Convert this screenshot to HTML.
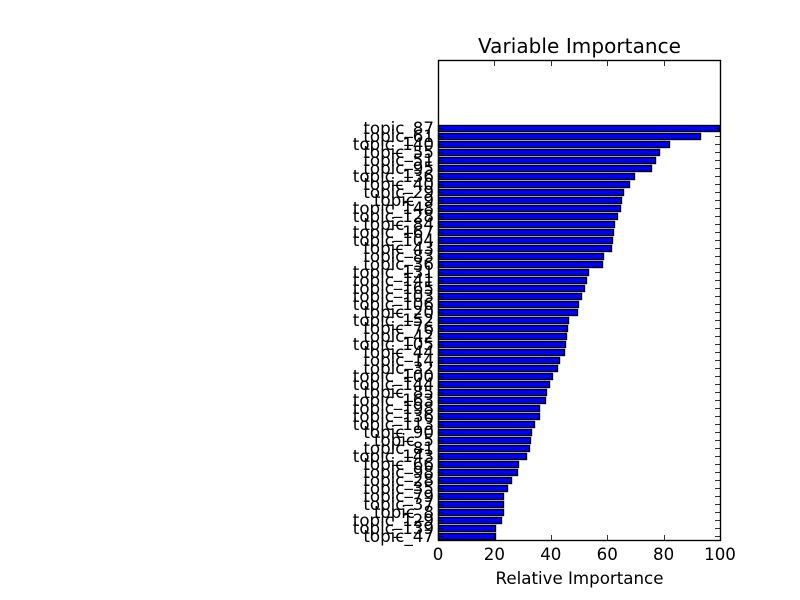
<!DOCTYPE html>
<html>
<head>
<meta charset="utf-8">
<title>Variable Importance</title>
<style>
html,body{margin:0;padding:0;background:#fff;width:800px;height:600px;overflow:hidden}
svg{display:block}
text{font-family:"DejaVu Sans",sans-serif;fill:#000}
</style>
</head>
<body>
<svg id="chart" xmlns="http://www.w3.org/2000/svg" width="800" height="600" viewBox="0 0 800 600">
<rect x="438.5" y="60.5" width="282" height="480" fill="#fff"/>
<g id="bars"></g>
<g id="ticks"></g>
<rect x="438.5" y="60.5" width="282" height="480" fill="none" stroke="#000" stroke-width="1.39"/>
<g id="labels"></g>
<text x="579.5" y="53" font-size="20" letter-spacing="0.06" text-anchor="middle">Variable Importance</text>
<text x="579.5" y="584" font-size="16.67" text-anchor="middle">Relative Importance</text>
</svg>
<script>
const categories = ["topic_87","topic_61","topic_140","topic_55","topic_51","topic_95","topic_136","topic_40","topic_29","topic_9","topic_148","topic_128","topic_84","topic_167","topic_104","topic_43","topic_83","topic_36","topic_131","topic_141","topic_165","topic_103","topic_106","topic_20","topic_152","topic_76","topic_42","topic_105","topic_44","topic_14","topic_32","topic_100","topic_144","topic_85","topic_163","topic_198","topic_136","topic_113","topic_90","topic_5","topic_81","topic_143","topic_66","topic_98","topic_28","topic_35","topic_79","topic_37","topic_8","topic_129","topic_139","topic_47"];
const importance = [100,93.3,82.2,78.6,77.2,76,69.8,68,65.9,65.2,64.8,63.7,62.7,62.3,62,61.7,58.9,58.5,53.5,52.8,52.1,51,50,49.6,46.5,46.1,45.7,45.4,45,43.3,42.6,40.8,39.7,38.8,38.4,36.2,36,34.4,33.4,32.9,32.5,31.4,28.6,28.2,26.1,24.7,23.3,23.3,23.3,22.6,20.4,20.4];
const xTicks = [0,20,40,60,80,100];

const NS = 'http://www.w3.org/2000/svg';
const xScale = v => 438 + v / 100 * 282;
const yScale = v => 540 - v / 60 * 480;
const snap = v => Math.round(v) + 0.5;
const barsG = document.getElementById('bars');
const ticksG = document.getElementById('ticks');
const labelsG = document.getElementById('labels');

function line(x1, y1, x2, y2) {
  const l = document.createElementNS(NS, 'line');
  l.setAttribute('x1', x1);
  l.setAttribute('y1', y1);
  l.setAttribute('x2', x2);
  l.setAttribute('y2', y2);
  l.setAttribute('stroke', '#000');
  l.setAttribute('stroke-width', '0.8');
  return l;
}

const n = categories.length;
categories.forEach((name, i) => {
  const pos = n - 1 - i + 0.5;
  const top = snap(yScale(pos + 0.4));
  const bottom = snap(yScale(pos - 0.4));
  const r = document.createElementNS(NS, 'rect');
  
  
  r.setAttribute('x', snap(xScale(0)));
  r.setAttribute('y', top);
  r.setAttribute('width', Math.round(xScale(importance[i])) - 0.5 - snap(xScale(0)));
  r.setAttribute('height', bottom - top);
  r.setAttribute('fill', '#0000ff');
  r.setAttribute('stroke', '#000');
  r.setAttribute('stroke-width', '1.39');
  barsG.appendChild(r);

  const y = snap(yScale(pos));
  const tl = line(438.5, y, 444, y);
  
  
  ticksG.appendChild(tl);
  const tr = line(715, y, 720.5, y);
  
  
  ticksG.appendChild(tr);

  const t = document.createElementNS(NS, 'text');
  
  
  t.setAttribute('x', 434);
  t.setAttribute('y', yScale(pos) + 6);
  t.setAttribute('font-size', '16.67');
  t.setAttribute('text-anchor', 'end');
  t.textContent = name;
  labelsG.appendChild(t);
});

xTicks.forEach(v => {
  const x = snap(xScale(v));
  const tb = line(x, 540.5, x, 535);
  
  
  ticksG.appendChild(tb);
  const tt = line(x, 60.5, x, 66);
  
  
  ticksG.appendChild(tt);

  const t = document.createElementNS(NS, 'text');
  
  
  t.setAttribute('x', xScale(v));
  t.setAttribute('y', 560);
  t.setAttribute('font-size', '16.67');
  t.setAttribute('text-anchor', 'middle');
  t.textContent = v;
  labelsG.appendChild(t);
});
</script>
</body>
</html>
